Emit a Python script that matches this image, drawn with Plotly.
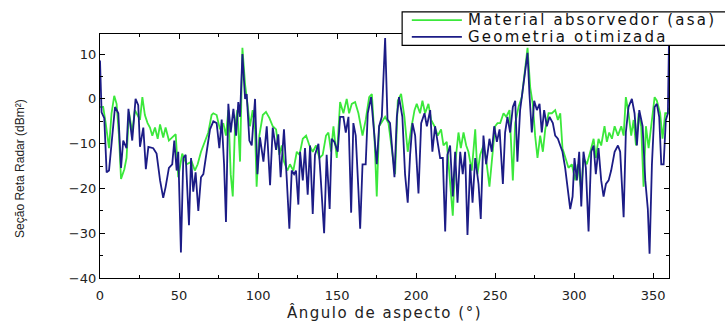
import plotly.graph_objects as go

# ---- data ----
blue_angle = [0, 1, 2.7, 4.2, 5.7, 7.3, 9.5, 11.6, 13.3, 14.7, 16.8, 18, 20.4, 22.5, 24.2, 25.3, 27.4, 29, 30.6,
              33.7, 35.8, 38, 40, 41.5, 43.6, 45.7, 47, 48.5, 49.5, 51.2, 52.7, 54.2, 56.3, 57.6, 59, 60.5,
              62.2, 63.9, 65.4, 67.5, 69.6, 71.7, 73.8, 75.5, 77, 78.5, 79.7, 81.2, 82.7, 84.4, 86.1, 87.5,
              88.6, 90.1, 91.8, 92.8, 94.5, 96, 98.1, 99.6, 101.2, 103.4, 105.5, 107.6, 109.3, 111.4, 112.8,
              114.3, 116.4, 118.1, 119.8, 121.3, 122.8, 124, 125.5, 126.6, 128.3, 129.7, 131.4, 132.9, 134.6,
              136, 138.2, 139.6, 141.8, 143.4, 145.3, 146.6, 148.3, 150.4, 151.9, 154, 155.5, 157.2, 158.9,
              160.3, 161.8, 163.5, 164.6, 166.1, 168.1, 169.4, 171.5, 173.6, 175.1, 176.6, 178.3, 180.4,
              181.9, 183.5, 185, 186.3, 187.8, 189.2, 191.3, 193, 194.7, 196.2, 197.7, 199.4, 201.5, 203.2,
              205.3, 206.8, 208.9, 210.3, 212, 214.1, 215.2, 216.9, 218.4, 219.8, 221.5, 223.2, 224.7, 226.2,
              227.9, 229.5, 231, 232.5, 234.2, 235.7, 237.4, 239.5, 240.9, 242.6, 244.3, 246.4, 247.9, 249.4,
              251.1, 252.8, 254.9, 256.3, 257.8, 259.5, 261.2, 262.7, 264.1, 265.8, 267.5, 269, 270.5, 271.7,
              273.2, 274.7, 276.4, 278.1, 279.5, 281, 282.7, 284.4, 286.5, 288, 289.7, 291.2, 292.6, 294.3,
              296, 297.5, 299, 300.2, 301.7, 303.2, 304.5, 305.9, 307.4, 309.1, 310.8, 312.3, 313.7, 315.4,
              317.1, 318.6, 320.1, 321.8, 323.4, 325.6, 327.7, 329.1, 331.3, 332.7, 334.4, 336.5, 338.2,
              339.7, 341.2, 343.3, 345, 346.6, 347.7, 349.2, 350.9, 352.3, 353.8, 355.1, 356.6, 358, 359.3, 360]
blue_rcs = [8.6, -3, -4.3, -16.4, -16, -9.6, -1.8, -3.2, -15.4, -9.3, -11, -2.2, -9.3, 0, -1.4, -10.7, -6.4, -15.7, -10.7,
            -11, -12.2, -18.2, -22.1, -19.7, -15.4, -14.6, -9.3, -16, -11.8, -34.3, -13.2, -12.5, -28.2, -13.2, -20.7, -16.4,
            -25, -17.5, -16.8, -11.8, -6.8, -5, -5.4, -11, -4.6, -14.6, -27.5, -1.1, -7.5, -2.2, -8.2, -0.7,
            -4, 10, 0, 1.1, -9.3, -10.4, 0, -16.8, -8.6, -14, -6.1, -19.3, -6.4, -11.4, -7.9,
            -17.5, -6.8, -17.5, -29, -16, -16.8, -16, -23.6, -11.8, -18.2, -11, -21.4, -10.4, -25.7,
            -12.5, -10, -17.5, -30, -12.5, -24.6, -8.9, -9.6, -11.8, -4, -4, -7.5, -4, -25.4,
            -5.4, -8.2, -20.4, -29, -14.6, -14.6, -3.2, 0.4, -8.2, -14.6, -6.1, -4, 13.6,
            -4.6, -5.4, -12.5, -17.5, -4, 0.4, -4, -16.8, -23.2, -12.5, -5.4, -8.2, -21.1, -5.4,
            -3.2, -6.1, -2.5, -11.8, -6.1, -10.4, -13.2, -13.2, -29.6, -12.5, -10.4, -21.8, -11.8, -23.2,
            -11.8, -16.8, -11.8, -30.4, -14.6, -23.2, -13.2, -19, -26.8, -8.2, -14.6, -8.9, -11.8, -6.1,
            -9.6, -6.8, -19, -7.5, -4, -7.5, -1.8, -0.4, -14, -2.5, 1.8, 6.1, 10.3, 1.1,
            -7.5, -0.4, -2.5, -1.1, -7.5, -2.5, -6.1, -4, -5.4, -8.2, -8.9, -10.4, -11.8, -15.4,
            -20.4, -24.6, -21.8, -13.2, -18.2, -11.8, -24, -11.8, -15.4, -29.6, -11.8, -10.4, -16.8, -11,
            -18.2, -21.8, -19, -18.2, -16, -11.8, -10.4, -11.8, -26.4, -7.5, -1.8, 0, -3.2,
            -10.4, -2.5, -6.1, -18.2, -24.6, -34.6, -14.6, -1.8, -1.1, -4, -14.6, -14.6, -4.7, -3.2, 13.2]

green_angle = [0, 2, 3.6, 5.7, 7.3, 9, 10.5, 12, 13.3, 15.4, 16.8, 18.3, 20.4, 22.1, 25.3, 26.8, 28.4, 30.1, 31.6,
               33.1, 34.8, 36.5, 38, 40, 41.5, 43.6, 45.7, 47.9, 49.5, 52, 54.8, 58, 60, 61.8, 63.9, 66, 68.5,
               70.6, 71.7, 73.8, 75.9, 78, 79.7, 81.2, 82.7, 84, 85.4, 86.9, 88.6, 90.1, 91.8, 93.3, 94.9, 96.6,
               98.1, 99.1, 100.8, 103, 105, 107.2, 109.3, 111.4, 113.5, 115, 116.4, 118.5, 120.2, 122.3, 124.5,
               126.2, 128.3, 130.4, 132.5, 134.6, 136.7, 138.8, 140.9, 143, 144.5, 146.2, 147.7, 149.8, 151.9,
               154, 156.1, 157.6, 159.3, 161.4, 163.5, 166.1, 168.1, 170.3, 172, 173.6, 175.1, 176.6, 178.8,
               180.4, 182.5, 184.6, 186.7, 188.4, 190.5, 192.6, 194.7, 196.8, 199, 200.4, 202.5, 204, 205.7,
               207.8, 209.5, 211.6, 213.7, 215.8, 217.3, 219.4, 221.1, 223.2, 224.7, 226.8, 228.3, 230, 231.7,
               233.1, 235.2, 237.4, 238.8, 240.5, 242.6, 244.7, 246.4, 247.9, 250, 251.5, 253.2, 255.3, 257,
               259.1, 261.2, 262.7, 264.8, 266.9, 269, 270.5, 272.2, 273.8, 275.3, 276.8, 278.5, 280.2, 281.7,
               283.8, 285.9, 288, 289.7, 291.2, 292.6, 294.3, 296.4, 298.5, 300.7, 302.3, 304.5, 305.9, 308,
               310.2, 312.3, 313.7, 315.4, 317.1, 319.2, 320.7, 322.2, 323.9, 325.6, 327.7, 329.8, 331.3, 332.7,
               334.4, 336.1, 337.6, 339.1, 340.8, 342.4, 343.9, 345.4, 347.1, 349.2, 350.9, 352.3, 354.4, 355.9,
               357.6, 359.3, 360]
green_rcs = [-1.8, -1.8, -5.4, -11, -3.2, 0.7, -1.1, -8.2, -17.9, -15.7, -13.2, -2.9, -7.5, -2.5, -4.7, 0.4, -3.6, -5.4, -6.4,
             -8.2, -6.4, -8.9, -5.7, -8.6, -6.4, -9.3, -8.6, -7.9, -17.5, -12.2, -14.6, -14, -16, -14.6, -11.8, -9.6, -7.5,
             -3.6, -3.2, -3.6, -6.8, -5.4, -8.2, -2.5, -16.8, -21.8, -6.1, -2.5, -14, 11.4, 3.2, -1.1, -6.1, -2.5,
             -6.8, -19.6, -8.2, -3.6, -2.9, -4.3, -6.1, -6.8, -12.5, -10.4, -14, -16, -14.6, -16, -11.8,
             -12.5, -8.9, -8.2, -10.4, -11.8, -10.4, -13.2, -12.5, -8.2, -7.5, -11.8, -6.1, -13.2, -0.7,
             -3.2, 0, -3.2, -1.1, -0.7, -3.2, -8.2, -4.7, 0.4, 1.1, -8.2, -21.8, -6.1, -4.7,
             -4, -5.4, -11, -16.8, -0.4, 1.1, -4, -11.8, -6.8, -2.5, -1.1, -3.2, -0.4, -3.2,
             -1.1, -4.7, -6.1, -8.2, -6.8, -10.4, -9.6, -17.5, -26.1, -14.6, -7.5, -11, -7.5, -10.4,
             -11.8, -16, -6.8, -16.8, -12.5, -10.4, -14.6, -19.6, -13.2, -6.1, -5.4, -5.4, -3.2, -4,
             -2.5, -18.2, -5.4, -1.8, 0.4, 7.5, 11.4, 2.5, -1.1, -8.2, -13.2, -8.2, -11.8, -6.8,
             -3.2, -3.2, -2.5, -4.7, -3.2, -11, -13.2, -15.4, -14.6, -18.2, -14.6, -20.4, -13.2, -14.6,
             -11.8, -8.9, -13.2, -8.9, -10.4, -6.1, -9.6, -7.5, -8.9, -6.1, -8.2, -6.1, -8.2, 0.4,
             -3.2, -8.2, -4.7, -10.4, -3.2, -6.1, -19.6, -6.1, -11, -5.4, 0.4, -0.4, -3.2, -8.9,
             -3.2, -3.2, -2]

green_name = "Material absorvedor (asa)"
blue_name = "Geometria otimizada"
x_title = "Ângulo de aspecto (°)"
y_title = "Seção Reta Radar (dBm²)"

FONT = "DejaVu Sans"
GREEN = "#3be83b"
BLUE = "#1c1c86"


def spaced(text, px):
    return '<span style="letter-spacing:%spx">%s</span>' % (px, text)


fig = go.Figure()
fig.add_trace(go.Scatter(x=green_angle, y=green_rcs, mode="lines", name=green_name,
                         line=dict(color=GREEN, width=1.8), showlegend=False))
fig.add_trace(go.Scatter(x=blue_angle, y=blue_rcs, mode="lines", name=blue_name,
                         line=dict(color=BLUE, width=1.8), showlegend=False))

axis_common = dict(showline=True, linecolor="black", linewidth=1.3, mirror="allticks",
                   ticks="inside", ticklen=5, tickcolor="black", showgrid=False, zeroline=False,
                   tickfont=dict(family=FONT, size=13, color="#222"))

fig.update_xaxes(range=[0, 360], dtick=50, tick0=0, ticklabelstandoff=5,
                 minor=dict(dtick=25, ticks="inside", ticklen=3, tickcolor="black"),
                 title=dict(text=spaced(x_title, 1.5), font=dict(family=FONT, size=15, color="#222"), standoff=4),
                 **axis_common)
fig.update_yaxes(range=[-40, 14.5], dtick=10, tick0=0,
                 minor=dict(dtick=5, ticks="inside", ticklen=3, tickcolor="black"),
                 **axis_common)

# manual legend box (reference box runs past the right edge of the image)
shapes = [
    dict(type="rect", xref="paper", yref="paper", x0=0.531, x1=1.11, y0=0.953, y1=1.091,
         fillcolor="white", line=dict(color="black", width=1.2), layer="above"),
    dict(type="line", xref="paper", yref="paper", x0=0.548, x1=0.636, y0=1.057, y1=1.057,
         line=dict(color=GREEN, width=1.8), layer="above"),
    dict(type="line", xref="paper", yref="paper", x0=0.548, x1=0.636, y0=0.988, y1=0.988,
         line=dict(color=BLUE, width=1.8), layer="above"),
]
annotations = [
    dict(xref="paper", yref="paper", x=0.643, y=1.057, text=spaced(green_name, 2.2), showarrow=False,
         xanchor="left", yanchor="middle", font=dict(family=FONT, size=15, color="#111")),
    dict(xref="paper", yref="paper", x=0.643, y=0.988, text=spaced(blue_name, 2.2), showarrow=False,
         xanchor="left", yanchor="middle", font=dict(family=FONT, size=15, color="#111")),
    # y-axis title, placed where the reference shows it
    dict(xref="paper", yref="paper", x=-0.141, y=0.45, text=y_title, showarrow=False, textangle=-90,
         xanchor="center", yanchor="middle", font=dict(family="Liberation Sans", size=12, color="#222")),
]

fig.update_layout(
    width=725, height=329,
    margin=dict(l=100, r=56, t=34, b=41),
    paper_bgcolor="white", plot_bgcolor="white",
    showlegend=False,
    shapes=shapes, annotations=annotations,
)

fig.write_html("out.html")
